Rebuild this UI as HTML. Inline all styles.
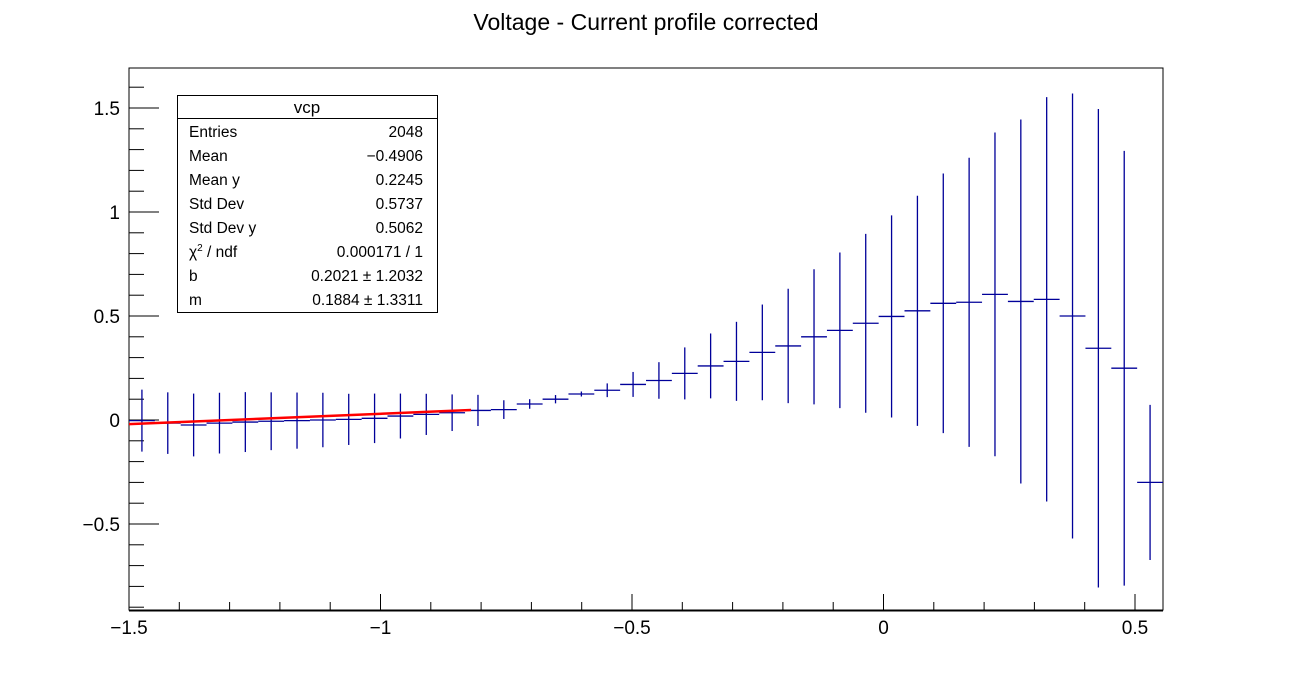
<!DOCTYPE html>
<html><head><meta charset="utf-8">
<style>
html,body{margin:0;padding:0;background:#fff;}
svg{display:block;font-family:"Liberation Sans",sans-serif;}
</style></head>
<body>
<svg id="c" width="1292" height="680" viewBox="0 0 1292 680">
<rect x="0" y="0" width="1292" height="680" fill="#fff"/>
<text x="646" y="30" text-anchor="middle" font-size="23">Voltage - Current profile corrected</text>
<rect x="129" y="68" width="1034" height="542" fill="none" stroke="#000" stroke-width="1"/>
<g id="axes"></g>
<g id="marks"></g>
<g id="fit"></g>
<g>
<rect x="177.5" y="95.5" width="260" height="217" fill="#fff" stroke="#000" stroke-width="1"/>
<line x1="177.5" y1="118.5" x2="437.5" y2="118.5" stroke="#000" stroke-width="1"/>
<text x="307" y="113" text-anchor="middle" font-size="17">vcp</text>
<g font-size="15.5">
<text x="189" y="137">Entries</text><text x="423" y="137" text-anchor="end">2048</text>
<text x="189" y="161">Mean</text><text x="423" y="161" text-anchor="end">−0.4906</text>
<text x="189" y="185">Mean y</text><text x="423" y="185" text-anchor="end">0.2245</text>
<text x="189" y="209">Std Dev</text><text x="423" y="209" text-anchor="end">0.5737</text>
<text x="189" y="233">Std Dev y</text><text x="423" y="233" text-anchor="end">0.5062</text>
<text x="189" y="257">χ<tspan font-size="10" dy="-6">2</tspan><tspan dy="6"> / ndf</tspan></text><text x="423" y="257" text-anchor="end">0.000171 / 1</text>
<text x="189" y="281">b</text><text x="423" y="281" text-anchor="end">0.2021 ± 1.2032</text>
<text x="189" y="305">m</text><text x="423" y="305" text-anchor="end">0.1884 ± 1.3311</text>
</g>
</g>
</svg>
<script>
const values = [-0.003,-0.015,-0.024,-0.015,-0.01,-0.006,-0.003,0.0,0.003,0.008,0.019,0.027,0.035,0.046,0.05,0.077,0.10,0.125,0.143,0.171,0.19,0.224,0.26,0.282,0.325,0.356,0.40,0.431,0.465,0.498,0.525,0.561,0.566,0.604,0.57,0.58,0.50,0.345,0.249,-0.30];
const errors = [0.149,0.148,0.151,0.146,0.144,0.139,0.135,0.131,0.123,0.119,0.108,0.099,0.088,0.075,0.045,0.023,0.02,0.012,0.033,0.06,0.088,0.125,0.156,0.19,0.23,0.275,0.325,0.374,0.43,0.486,0.553,0.624,0.695,0.778,0.875,0.972,1.07,1.15,1.045,0.373];
const fitX = [-1.5,-0.82];
const fitY = [-0.02,0.048];
const xTicks = [-1.5,-1,-0.5,0,0.5];
const xTickLabels = ["−1.5","−1","−0.5","0","0.5"];
const yTicks = [-0.5,0,0.5,1,1.5];
const yTickLabels = ["−0.5","0","0.5","1","1.5"];
const xMin=-1.5, xMax=-1.5+1034/503, yMin=-(610-420)/208, yMax=(420-68)/208;
const L=129,R=1163,T=68,B=610;
const X=v=>L+(v-xMin)/(xMax-xMin)*(R-L);
const Y=v=>B-(v-yMin)/(yMax-yMin)*(B-T);
const NS="http://www.w3.org/2000/svg";
function mk(tag,attrs,parent){const e=document.createElementNS(NS,tag);for(const k in attrs)e.setAttribute(k,attrs[k]);parent.appendChild(e);return e;}
const ax=document.getElementById('axes');
// x axis ticks
for(let i=-15;i<=5;i++){const v=i/10;const x=X(v);const major=i%5===0;
 const t=mk('line',{x1:x,y1:B,x2:x,y2:B-(major?16:8),stroke:'#000','stroke-width':1},ax);
 
 }
mk('line',{x1:L,y1:B+0.5,x2:R,y2:B+0.5,stroke:'#000','stroke-width':2},ax);
xTicks.forEach((v,i)=>{const t=mk('text',{x:X(v),y:634,'text-anchor':'middle','font-size':19},ax);t.textContent=xTickLabels[i];
 
 });
// y axis ticks
for(let i=-9;i<=16;i++){const v=i/10;const y=Y(v);const major=i%5===0;
 const t=mk('line',{x1:L,y1:y,x2:L+(major?30:15),y2:y,stroke:'#000','stroke-width':1},ax);
 
 }
yTicks.forEach((v,i)=>{const t=mk('text',{x:120,y:Y(v)+7,'text-anchor':'end','font-size':19},ax);t.textContent=yTickLabels[i];
 
 });
// marks
const mg=document.getElementById('marks');
const bw=(xMax-xMin)/values.length;
values.forEach((v,i)=>{const c=xMin+(i+0.5)*bw;const g=mk('g',{},mg);
 
 
 mk('line',{x1:X(c-bw/2),y1:Y(v),x2:X(c+bw/2),y2:Y(v),stroke:'#000099','stroke-width':1.3},g);
 mk('line',{x1:X(c),y1:Y(Math.min(v+errors[i],yMax)),x2:X(c),y2:Y(Math.max(v-errors[i],yMin)),stroke:'#000099','stroke-width':1.3},g);});
const fg=document.getElementById('fit');
const fl=mk('line',{x1:X(fitX[0]),y1:Y(fitY[0]),x2:X(fitX[1]),y2:Y(fitY[1]),stroke:'#ff0000','stroke-width':2.5},fg);


</script>
</body></html>
